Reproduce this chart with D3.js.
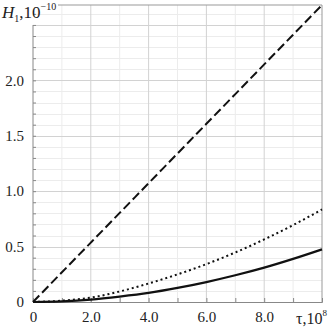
<!DOCTYPE html>
<html>
<head>
<meta charset="utf-8">
<script src="https://cdn.jsdelivr.net/npm/d3@7"></script>
<style>
  html, body { margin: 0; padding: 0; background: #fff; }
</style>
</head>
<body>
<div id="chart"></div>
<script>
// data (tau in 1e8, H1 in 1e-10)
const tau = [0, 1, 2, 3, 4, 5, 6, 7, 8, 9, 10];
const dashed = [0, 0.268, 0.536, 0.804, 1.072, 1.34, 1.608, 1.876, 2.144, 2.412, 2.68];
const dotted = [0, 0.012, 0.04, 0.095, 0.167, 0.249, 0.342, 0.447, 0.565, 0.694, 0.835];
const solid = [0, 0.006, 0.022, 0.049, 0.082, 0.127, 0.18, 0.241, 0.31, 0.389, 0.475];

const xTickVals = [0, 2, 4, 6, 8];
const xTickLabels = ["0", "2.0", "4.0", "6.0", "8.0"];
const yTickVals = [0, 0.5, 1.0, 1.5, 2.0];
const yTickLabels = ["0", "0.5", "1.0", "1.5", "2.0"];

const font = "'Liberation Serif', 'Times New Roman', 'DejaVu Serif', serif";

const width = 328;
const height = 328;
const margin = { top: 5, right: 6, bottom: 26, left: 33 };

const svg = d3.select("#chart")
    .append("svg")
    .attr("width", width)
    .attr("height", height);

const x = d3.scaleLinear()
    .domain([0, 10])
    .range([margin.left, width - margin.right]);

const y = d3.scaleLinear()
    .domain([0, 2.68])
    .range([height - margin.bottom, margin.top]);

// minor grid
const xMinor = d3.range(1, 10, 2);
const yMinor = d3.range(1, 27).map(d => d / 10).filter(d => Math.round(d * 10) % 5 !== 0);

svg.append("g")
    .selectAll("line")
    .data(xMinor)
    .join("line")
    .attr("x1", d => x(d)).attr("x2", d => x(d))
    .attr("y1", y(0)).attr("y2", y(2.68))
    .attr("stroke", "#ececec")
    .attr("stroke-width", 1);

svg.append("g")
    .selectAll("line")
    .data(yMinor)
    .join("line")
    .attr("x1", x(0)).attr("x2", x(10))
    .attr("y1", d => Math.round(y(d)) + 0.5).attr("y2", d => Math.round(y(d)) + 0.5)
    .attr("stroke", "#ececec")
    .attr("stroke-width", 1);

// major grid
svg.append("g")
    .selectAll("line")
    .data([2, 4, 6, 8])
    .join("line")
    .attr("x1", d => x(d)).attr("x2", d => x(d))
    .attr("y1", y(0)).attr("y2", y(2.68))
    .attr("stroke", "#d2d2d2")
    .attr("stroke-width", 1);

svg.append("g")
    .selectAll("line")
    .data([0.5, 1.0, 1.5, 2.0, 2.5])
    .join("line")
    .attr("x1", x(0)).attr("x2", x(10))
    .attr("y1", d => Math.round(y(d)) + 0.5).attr("y2", d => Math.round(y(d)) + 0.5)
    .attr("stroke", "#d2d2d2")
    .attr("stroke-width", 1);

// frame
svg.append("line")
    .attr("x1", 58).attr("x2", x(10))
    .attr("y1", y(2.68)).attr("y2", y(2.68))
    .attr("stroke", "#999");
svg.append("line")
    .attr("x1", x(10)).attr("x2", x(10))
    .attr("y1", y(2.68)).attr("y2", y(0))
    .attr("stroke", "#999");

// axes
const xAxis = d3.axisBottom(x)
    .tickValues(d3.range(0, 11, 1))
    .tickSize(-4)
    .tickPadding(9)
    .tickFormat(d => {
        const i = xTickVals.indexOf(d);
        return i >= 0 ? xTickLabels[i] : "";
    });

const gx = svg.append("g")
    .attr("transform", `translate(0, ${y(0)})`)
    .call(xAxis)
    .attr("font-family", font);
gx.select(".domain").attr("stroke", "#888");
gx.selectAll(".tick line").attr("stroke", "#888");
gx.selectAll("text")
    .style("font-family", font)
    .style("font-size", "15px")
    .attr("fill", "#222");

const yAxis = d3.axisLeft(y)
    .tickValues(d3.range(0, 27).map(d => d / 10))
    .tickSize(-3)
    .tickPadding(9)
    .tickFormat(d => {
        const i = yTickVals.findIndex(v => Math.abs(v - d) < 1e-9);
        return i >= 0 ? yTickLabels[i] : "";
    });

const gy = svg.append("g")
    .attr("transform", `translate(${x(0)}, 0)`)
    .call(yAxis)
    .attr("font-family", font);
gy.select(".domain").remove();
gy.append("line")
    .attr("x1", 0).attr("x2", 0)
    .attr("y1", 25).attr("y2", y(0))
    .attr("stroke", "#888");
gy.selectAll(".tick line").attr("stroke", "#888");
gy.selectAll("text")
    .style("font-family", font)
    .style("font-size", "15px")
    .attr("fill", "#222");

// curves
const line = vals => d3.line()
    .x((d, i) => x(tau[i]))
    .y(d => y(d))
    .curve(d3.curveMonotoneX)(vals);

svg.append("path")
    .attr("d", line(dotted))
    .attr("fill", "none")
    .attr("stroke", "#111")
    .attr("stroke-width", 2)
    .attr("stroke-dasharray", "2,3");

svg.append("path")
    .attr("d", line(solid))
    .attr("fill", "none")
    .attr("stroke", "#111")
    .attr("stroke-width", 2.2);

svg.append("path")
    .attr("d", line(dashed))
    .attr("fill", "none")
    .attr("stroke", "#111")
    .attr("stroke-width", 2)
    .attr("stroke-dasharray", "9,4");

// axis titles
const yt = svg.append("text")
    .attr("x", 2)
    .attr("y", 18)
    .style("font-family", font)
    .style("font-size", "17px")
    .attr("fill", "#222");
yt.append("tspan").style("font-style", "italic").text("H");
yt.append("tspan").attr("dy", 4).style("font-size", "10px").text("1");
yt.append("tspan").attr("dy", -4).text(",10");
yt.append("tspan").attr("dy", -8).style("font-size", "10px").text("−10");

const xt = svg.append("text")
    .attr("x", 296)
    .attr("y", 324)
    .style("font-family", font)
    .style("font-size", "16px")
    .attr("fill", "#222");
xt.append("tspan").text("τ,10");
xt.append("tspan").attr("dy", -8).style("font-size", "9px").text("8");
</script>
</body>
</html>
